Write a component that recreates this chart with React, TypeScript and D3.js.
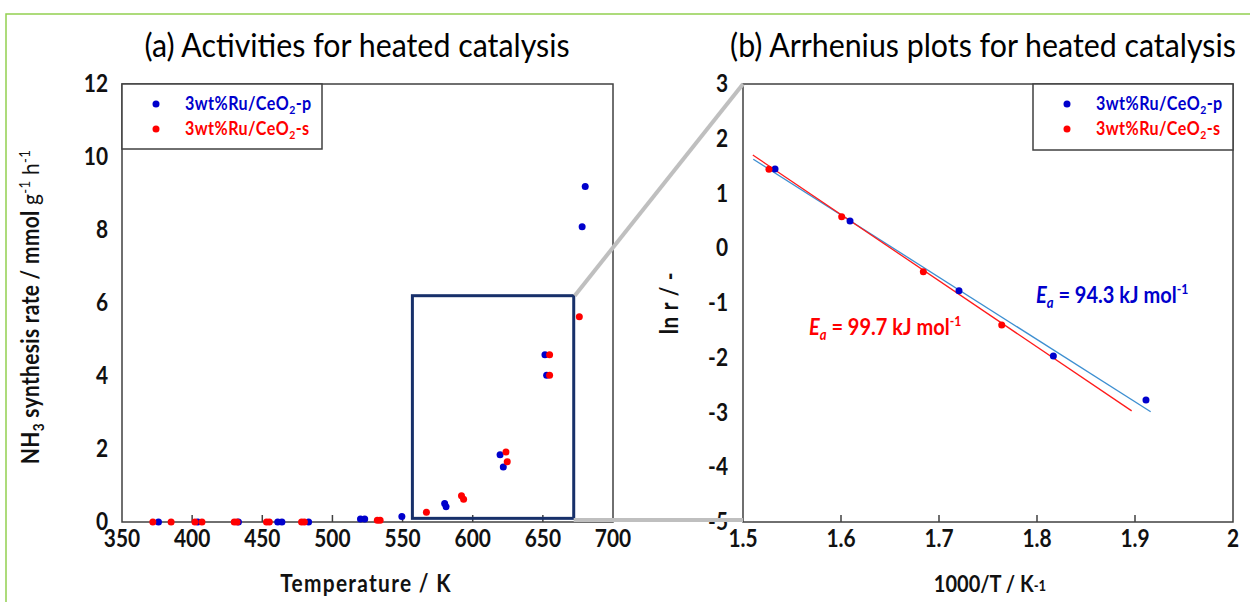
import React from "react";
import * as d3 from "d3";

// (a) NH3 rate vs temperature, [T (K), rate (mmol g-1 h-1)]
const ratePList: number[][] = [
  [376, 0], [404, 0], [433, 0], [461, 0], [464, 0], [483, 0],
  [520, 0.08], [523, 0.08], [549.5, 0.15], [580, 0.51], [581, 0.42],
  [619.5, 1.84], [621.8, 1.51], [651.5, 4.58], [652.7, 4.02], [678, 8.09], [680.2, 9.19],
];
const rateSList: number[][] = [
  [372, 0], [385, 0], [402, 0], [407, 0], [430, 0], [432, 0], [453, 0], [455, 0],
  [478, 0], [480, 0], [532, 0.05], [534, 0.05], [567, 0.27], [592, 0.72], [593.5, 0.62],
  [623.7, 1.92], [624.6, 1.65], [654.8, 4.58], [654.8, 4.02], [676, 5.62],
];
// (b) Arrhenius, [1000/T, ln r]
const arrPList: number[][] = [
  [1.5327, 1.447], [1.6092, 0.498], [1.7204, -0.775], [1.8167, -1.968], [1.9112, -2.77],
];
const arrSList: number[][] = [
  [1.5265, 1.442], [1.6007, 0.576], [1.684, -0.428], [1.764, -1.40],
];
const fitP: number[][] = [[1.5105, 1.625], [1.916, -2.985]];
const fitS: number[][] = [[1.51, 1.703], [1.8966, -2.97]];

const tempTicks = [350, 400, 450, 500, 550, 600, 650, 700];
const rateTicks = [0, 2, 4, 6, 8, 10, 12];
const invTTicks = [1.5, 1.6, 1.7, 1.8, 1.9, 2];
const lnTicks = [-5, -4, -3, -2, -1, 0, 1, 2, 3];
const zoomBox = { t0: 557, t1: 672, r0: 0.1, r1: 6.2 };

const BLUE = "#0000cc";
const RED = "#ff0000";
const AXIS = "#404040";

const Txt = (props: any) => {
  const { x, y, rot = 0, anchor = "start", size, weight = 700, fill = "#111", ls = 0, sx = 0.87, children } = props;
  return (
    <text
      transform={`translate(${x},${y}) rotate(${rot}) scale(${sx},1)`}
      textAnchor={anchor}
      fontSize={size}
      fontWeight={weight}
      fill={fill}
      letterSpacing={ls}
      fontFamily="Lato, sans-serif"
    >
      {children}
    </text>
  );
};

const Sub = (props: any) => {
  const s = props.size;
  return (
    <>
      <tspan fontSize={s * 0.65} dy={s * 0.22}>{props.t}</tspan>
      <tspan dy={-s * 0.22}>{props.after}</tspan>
    </>
  );
};

const App = () => {
  const xa = d3.scaleLinear().domain([350, 700]).range([122, 613]);
  const ya = d3.scaleLinear().domain([0, 12]).range([522, 84]);
  const xb = d3.scaleLinear().domain([1.5, 2]).range([743, 1233]);
  const yb = d3.scaleLinear().domain([-5, 3]).range([522, 84]);
  const lineB = d3.line<number[]>().x((d) => xb(d[0])).y((d) => yb(d[1]));

  const legend = (x0: number, x1: number, y1: number) => (
    <g>
      <rect x={x0} y={84} width={x1 - x0} height={y1 - 84} fill="#fff" stroke={AXIS} strokeWidth={1.5} />
      <circle cx={x0 + 34} cy={104} r={3.5} fill={BLUE} />
      <circle cx={x0 + 34} cy={129} r={3.5} fill={RED} />
      <Txt x={x0 + 63} y={110} size={18.5} fill={BLUE} ls={0.5}>
        3wt%Ru/CeO<Sub size={18.5} t="2" after="-p" />
      </Txt>
      <Txt x={x0 + 63} y={135} size={18.5} fill={RED} ls={0.5}>
        3wt%Ru/CeO<Sub size={18.5} t="2" after="-s" />
      </Txt>
    </g>
  );

  return (
    <svg width={1250} height={602} style={{ position: "absolute", left: 0, top: 0, background: "#fff" }}>
      <rect x={6} y={14} width={1300} height={700} fill="none" stroke="#92d050" strokeWidth={1.5} />

      <Txt x={357} y={57} anchor="middle" size={33} sx={0.92} weight={400} fill="#000">(a) Activities for heated catalysis</Txt>
      <Txt x={983} y={57} anchor="middle" size={33} sx={0.92} weight={400} fill="#000">(b) Arrhenius plots for heated catalysis</Txt>

      {/* panel (a) */}
      <rect x={122} y={84} width={613 - 122} height={522 - 84} fill="none" stroke={AXIS} strokeWidth={1.5} />
      {tempTicks.slice(1, -1).map((t) => (
        <line key={t} x1={xa(t)} x2={xa(t)} y1={522} y2={515} stroke={AXIS} strokeWidth={1.5} />
      ))}
      {tempTicks.map((t) => (
        <Txt key={t} x={xa(t)} y={547} anchor="middle" size={24}>{t}</Txt>
      ))}
      {rateTicks.map((t) => (
        <Txt key={t} x={108} y={ya(t) + 8} anchor="end" size={24}>{t}</Txt>
      ))}
      {legend(122, 322, 149)}
      {ratePList.map((d, i) => (
        <circle key={"p" + i} cx={xa(d[0])} cy={ya(d[1])} r={3.5} fill={BLUE} />
      ))}
      {rateSList.map((d, i) => (
        <circle key={"s" + i} cx={xa(d[0])} cy={ya(d[1])} r={3.5} fill={RED} />
      ))}
      <rect
        x={xa(zoomBox.t0)} y={ya(zoomBox.r1)}
        width={xa(zoomBox.t1) - xa(zoomBox.t0)} height={ya(zoomBox.r0) - ya(zoomBox.r1)}
        fill="none" stroke="#17306a" strokeWidth={3}
      />
      <Txt x={366} y={592} anchor="middle" size={24} ls={1.5}>Temperature / K</Txt>
      <Txt x={39} y={307} rot={-90} anchor="middle" size={24} ls={0.4}>
        NH<Sub size={24} t="3" after=" synthesis rate / mmol " />
        <tspan fontWeight={400}>g</tspan>
        <tspan fontWeight={400} fontSize={15} dy={-9}>-1</tspan>
        <tspan fontWeight={400} dy={9}> h</tspan>
        <tspan fontWeight={400} fontSize={15} dy={-9}>-1</tspan>
      </Txt>

      {/* panel (b) */}
      <rect x={743} y={84} width={1233 - 743} height={522 - 84} fill="none" stroke={AXIS} strokeWidth={1.5} />
      {invTTicks.slice(1, -1).map((t) => (
        <line key={t} x1={xb(t)} x2={xb(t)} y1={522} y2={515} stroke={AXIS} strokeWidth={1.5} />
      ))}
      {invTTicks.map((t) => (
        <Txt key={t} x={xb(t)} y={547} anchor="middle" size={24}>{String(+t.toFixed(1))}</Txt>
      ))}
      {lnTicks.map((t) => (
        <Txt key={t} x={728} y={yb(t) + 8} anchor="end" size={24}>{t}</Txt>
      ))}
      {legend(1033, 1233, 150)}
      <path d={lineB(fitP) || ""} fill="none" stroke="#3d8fd1" strokeWidth={1.3} />
      <path d={lineB(fitS) || ""} fill="none" stroke="#ff1a1a" strokeWidth={1.3} />
      {arrPList.map((d, i) => (
        <circle key={"bp" + i} cx={xb(d[0])} cy={yb(d[1])} r={3.5} fill={BLUE} />
      ))}
      {arrSList.map((d, i) => (
        <circle key={"bs" + i} cx={xb(d[0])} cy={yb(d[1])} r={3.5} fill={RED} />
      ))}
      <Txt x={1036} y={303} size={23} fill={BLUE}>
        <tspan fontStyle="italic">E</tspan>
        <tspan fontStyle="italic" fontSize={15} dy={5}>a</tspan>
        <tspan dy={-5}> = 94.3 kJ mol</tspan>
        <tspan fontSize={14} dy={-9}>-1</tspan>
      </Txt>
      <Txt x={809} y={335} size={23} fill={RED}>
        <tspan fontStyle="italic">E</tspan>
        <tspan fontStyle="italic" fontSize={15} dy={5}>a</tspan>
        <tspan dy={-5}> = 99.7 kJ mol</tspan>
        <tspan fontSize={14} dy={-9}>-1</tspan>
      </Txt>
      <Txt x={678} y={303} rot={-90} anchor="middle" size={24} ls={0.8}>ln r / -</Txt>
      <Txt x={990} y={592} anchor="middle" size={23}>
        1000/T / K<tspan fontSize={15} dy={-1}>-1</tspan>
      </Txt>

      {/* zoom connectors */}
      <line x1={xa(zoomBox.t1) + 1} y1={ya(zoomBox.r1)} x2={743} y2={84} stroke="#bfbfbf" strokeWidth={4} />
      <line x1={xa(zoomBox.t1)} y1={520} x2={743} y2={520} stroke="#bfbfbf" strokeWidth={4} />
    </svg>
  );
};

export default App;
